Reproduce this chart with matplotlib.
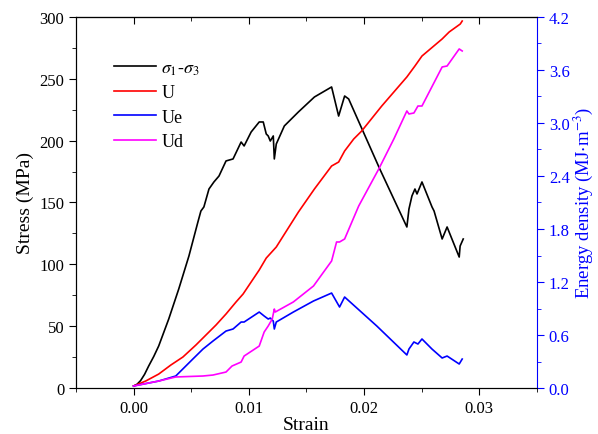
import matplotlib.pyplot as plt
from matplotlib.ticker import MultipleLocator

plt.rcParams['font.family'] = ['Liberation Serif', 'DejaVu Serif']
plt.rcParams['mathtext.fontset'] = 'stix'

# stress-strain curve (sigma1 - sigma3)
strain_s = [0.0, 0.00030, 0.00061, 0.00095, 0.00131, 0.00175, 0.00218, 0.00305,
            0.00392, 0.00480, 0.00558, 0.00584, 0.00610, 0.00654, 0.00697,
            0.00741, 0.00802, 0.00863, 0.00933, 0.00959, 0.01020, 0.01090, 0.01125,
            0.01151, 0.01168, 0.01186, 0.01212, 0.01221, 0.01238, 0.01308, 0.01430,
            0.01569, 0.01718, 0.01779, 0.01831, 0.01866, 0.02136, 0.02371, 0.02389,
            0.02415, 0.02441, 0.02459, 0.02502, 0.02589, 0.02607, 0.02677, 0.02720,
            0.02825, 0.02833, 0.02860]
stress = [1.6, 3.0, 6.0, 11.0, 17.8, 25.5, 34.0, 55.8,
          80.1, 106.7, 134.2, 143.1, 146.4, 160.9, 166.6,
          171.4, 183.6, 185.2, 198.9, 195.7, 207.0, 215.1, 215.1,
          205.4, 203.8, 199.7, 203.8, 185.2, 197.3, 211.9, 223.2,
          235.3, 243.4, 219.9, 236.1, 233.7, 177.1, 130.2, 144.7,
          155.3, 160.9, 156.9, 166.6, 146.4, 143.1, 120.5, 130.2,
          105.9, 114.8, 120.5]

# total energy U
strain_u = [0.0, 0.00105, 0.00218, 0.00323, 0.00428, 0.00541, 0.00628, 0.00715,
            0.00802, 0.00889, 0.00950, 0.01020, 0.01090, 0.01151, 0.01238, 0.01282,
            0.01430, 0.01569, 0.01718, 0.01779, 0.01831, 0.01910, 0.01979, 0.02153,
            0.02371, 0.02441, 0.02502, 0.02677, 0.02738, 0.02834, 0.02851]
u_total = [0.023, 0.079, 0.158, 0.260, 0.351, 0.487, 0.600, 0.713,
           0.838, 0.974, 1.064, 1.200, 1.336, 1.471, 1.596, 1.687,
           1.992, 2.253, 2.513, 2.558, 2.683, 2.819, 2.909, 3.192,
           3.521, 3.645, 3.758, 3.951, 4.030, 4.120, 4.154]

# elastic energy Ue
strain_e = [0.0, 0.00218, 0.00366, 0.00514, 0.00602, 0.00689, 0.00802, 0.00863,
            0.00933, 0.00959, 0.01090, 0.01133, 0.01168, 0.01186, 0.01212, 0.01221,
            0.01238, 0.01386, 0.01561, 0.01718, 0.01787, 0.01831, 0.02110, 0.02371,
            0.02389, 0.02432, 0.02467, 0.02502, 0.02589, 0.02677, 0.02720, 0.02825,
            0.02851]
u_elastic = [0.023, 0.079, 0.136, 0.328, 0.441, 0.532, 0.645, 0.668,
             0.747, 0.747, 0.860, 0.815, 0.781, 0.792, 0.758, 0.668,
             0.747, 0.860, 0.985, 1.075, 0.917, 1.030, 0.702, 0.374,
             0.441, 0.521, 0.498, 0.555, 0.441, 0.340, 0.362, 0.272,
             0.328]

# dissipated energy Ud
strain_d = [0.0, 0.00218, 0.00366, 0.00602, 0.00689, 0.00802, 0.00854, 0.00933,
            0.00959, 0.01090, 0.01133, 0.01168, 0.01203, 0.01221, 0.01229, 0.01386,
            0.01561, 0.01718, 0.01761, 0.01787, 0.01831, 0.01953, 0.02127, 0.02258,
            0.02371, 0.02389, 0.02432, 0.02467, 0.02502, 0.02677, 0.02720, 0.02825,
            0.02851]
u_dissip = [0.023, 0.079, 0.125, 0.136, 0.147, 0.181, 0.249, 0.294,
            0.362, 0.475, 0.634, 0.702, 0.781, 0.894, 0.860, 0.974,
            1.155, 1.438, 1.653, 1.653, 1.687, 2.060, 2.479, 2.819,
            3.136, 3.102, 3.113, 3.192, 3.192, 3.634, 3.645, 3.838,
            3.815]

fig = plt.figure(figsize=(5.98, 4.35), dpi=100)
ax = fig.add_axes([0.127, 0.1057, 0.771, 0.853])
ax2 = ax.twinx()

l1, = ax.plot(strain_s, stress, color='black', lw=1.2)
l2, = ax2.plot(strain_u, u_total, color='red', lw=1.2)
l3, = ax2.plot(strain_e, u_elastic, color='blue', lw=1.2)
l4, = ax2.plot(strain_d, u_dissip, color='magenta', lw=1.2)

ax.set_xlim(-0.005, 0.035)
ax.set_ylim(0, 300)
ax2.set_ylim(0, 4.2)

ax.xaxis.set_major_locator(MultipleLocator(0.01))
ax.xaxis.set_minor_locator(MultipleLocator(0.005))
ax.yaxis.set_major_locator(MultipleLocator(50))
ax.yaxis.set_minor_locator(MultipleLocator(25))
ax2.yaxis.set_major_locator(MultipleLocator(0.6))
ax2.yaxis.set_minor_locator(MultipleLocator(0.3))
ax.xaxis.set_major_formatter(plt.FormatStrFormatter('%.2f'))
ax2.yaxis.set_major_formatter(plt.FormatStrFormatter('%.1f'))

ax.tick_params(which='major', direction='out', length=5, labelsize=12)
ax.tick_params(which='minor', direction='out', length=3)
ax2.tick_params(which='major', direction='out', length=5, labelsize=12,
                colors='blue')
ax2.tick_params(which='minor', direction='out', length=3, colors='blue')

top = ax.secondary_xaxis('top')
top.xaxis.set_major_locator(MultipleLocator(0.01))
top.xaxis.set_minor_locator(MultipleLocator(0.005))
top.tick_params(which='major', direction='in', length=5, labeltop=False)
top.tick_params(which='minor', direction='in', length=3)

ax2.spines['right'].set_color('blue')
ax.spines['right'].set_visible(False)

ax.set_xlabel('Strain', fontsize=14, labelpad=0)
ax.set_ylabel('Stress (MPa)', fontsize=14, labelpad=4)
ax2.set_ylabel(r'Energy density (MJ$\cdot$m$^{-3}$)', fontsize=13.5,
               color='blue', labelpad=1)

ax.legend([l1, l2, l3, l4], [r'$\sigma_1$-$\sigma_3$', 'U', 'Ue', 'Ud'],
          loc='upper left', bbox_to_anchor=(0.048, 0.93), frameon=False,
          fontsize=13, handlelength=2.3, handletextpad=0.3, labelspacing=0.42)

fig.savefig('out.png', dpi=100)
